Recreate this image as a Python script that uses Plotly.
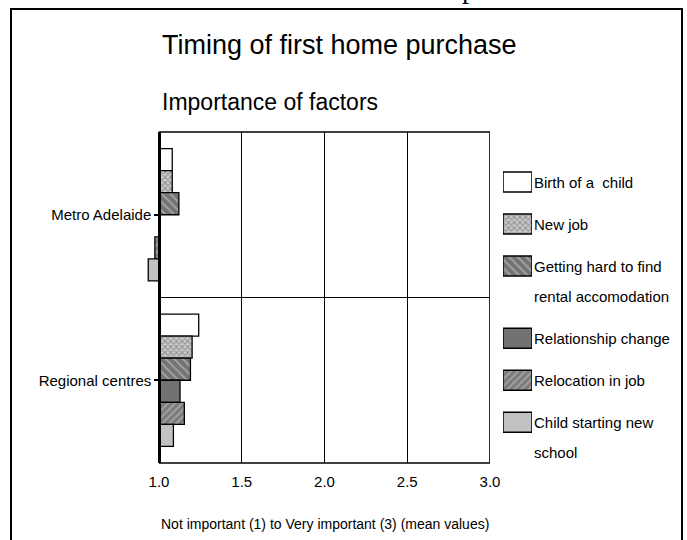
import plotly.graph_objects as go

# ---------------- data ----------------
regions = ["Metro Adelaide", "Regional centres"]
factors = [
    "Birth of a \u00a0child",
    "New job",
    "Getting hard to find<br>rental accomodation",
    "Relationship change",
    "Relocation in job",
    "Child starting new<br>school",
]
metro_values = [1.08, 1.08, 1.12, 1.00, 0.975, 0.935]
regional_values = [1.24, 1.20, 1.19, 1.127, 1.153, 1.087]
x_ticks = [1.0, 1.5, 2.0, 2.5, 3.0]
title_text = "Timing of first home purchase"
subtitle_text = "Importance of factors"
xaxis_text = "Not important (1) to Very important (3) (mean values)"
base_value = 1.0

# ---------------- styles ----------------
styles = [
    dict(color="#ffffff", pattern=dict(shape="")),
    dict(color="#b8b8b8", pattern=dict(shape="x", fgcolor="#5e5e5e", bgcolor="#cdcdcd", size=4, solidity=0.5)),
    dict(color="#787878", pattern=dict(shape="\\", fgcolor="#d8d8d8", bgcolor="#747474", size=6, solidity=0.3)),
    dict(color="#727272", pattern=dict(shape="")),
    dict(color="#808080", pattern=dict(shape="/", fgcolor="#d4d4d4", bgcolor="#7c7c7c", size=5, solidity=0.3)),
    dict(color="#c2c2c2", pattern=dict(shape="")),
]

W, H = 687, 540          # reference picture size
FIG_W = 697              # figure width (picture is compressed horizontally)


def px_x(px):
    return px / W


def px_y(py):
    return (H - py) / H


X_LEFT, X_RIGHT = 159.0, 490.0          # pixel positions of 1.0 and 3.0
unit = (X_RIGHT - X_LEFT) / 2.0
x_min = 0.9
plot_left = X_LEFT - (base_value - x_min) * unit
Y_TOP, Y_BOT = 132.0, 463.0
FONT = "Liberation Sans, Arial, sans-serif"

fig = go.Figure()

for i, name in enumerate(factors):
    vals = [metro_values[i], regional_values[i]]
    fig.add_trace(go.Bar(
        y=regions,
        x=[v - base_value for v in vals],
        base=[base_value] * len(vals),
        orientation="h",
        name=name,
        marker=dict(color=styles[i]["color"], pattern=styles[i]["pattern"],
                    line=dict(color="#000000", width=1.3)),
        showlegend=False,
        xaxis="x", yaxis="y",
    ))

# ---------------- legend as swatch bars ----------------
LEG_UNIT = 42.0
LEG_FIRST = 182.0
LINE_STEP = 0.72
positions = []
p = 0.0
for name in factors:
    positions.append(p)
    p += 1 + LINE_STEP * (name.count("<br>"))
sw_h = 20.0 / LEG_UNIT
for i, name in enumerate(factors):
    fig.add_trace(go.Bar(
        y=[positions[i]], x=[1], base=[0], orientation="h",
        width=[sw_h], offset=[-sw_h / 2],
        marker=dict(color=styles[i]["color"], pattern=styles[i]["pattern"],
                    line=dict(color="#000000", width=1.5)),
        showlegend=False, hoverinfo="skip",
        xaxis="x2", yaxis="y2",
    ))

annotations = []
for i, name in enumerate(factors):
    for k, line in enumerate(name.split("<br>")):
        annotations.append(dict(
            text=line, xref="x2", yref="y2", x=1, y=positions[i] + LINE_STEP * k,
            xanchor="left", yanchor="middle", xshift=0, showarrow=False,
            font=dict(family=FONT, size=15, color="#000000"),
        ))

annotations += [
    dict(text=title_text, xref="paper", yref="paper", x=px_x(160), y=px_y(45),
         xanchor="left", yanchor="middle", showarrow=False,
         font=dict(family=FONT, size=27, color="#000000")),
    dict(text=subtitle_text, xref="paper", yref="paper", x=px_x(160), y=px_y(102),
         xanchor="left", yanchor="middle", showarrow=False,
         font=dict(family=FONT, size=23, color="#000000")),
    dict(text=xaxis_text, xref="x", yref="paper", x=base_value, y=px_y(524),
         xanchor="left", yanchor="middle", showarrow=False,
         font=dict(family=FONT, size=14, color="#000000")),
    dict(text="p", xref="paper", yref="paper", x=px_x(469), y=px_y(9),
         xanchor="center", yanchor="bottom", yshift=3, showarrow=False,
         font=dict(family="Liberation Serif, Times New Roman, serif", size=28, color="#000000")),
]

shapes = [
    # outer frame (open at bottom)
    dict(type="path", xref="paper", yref="paper",
         path="M %f,%f L %f,%f L %f,%f L %f,%f" % (
             px_x(11), -0.1, px_x(11), px_y(9), px_x(682), px_y(9), px_x(682), -0.1),
         line=dict(color="#000000", width=2)),
    # plot frame
    dict(type="line", xref="x", yref="y domain", x0=base_value, x1=3.0, y0=1, y1=1,
         line=dict(color="#000000", width=1.6)),
    dict(type="line", xref="x", yref="y domain", x0=base_value, x1=3.0, y0=0, y1=0,
         line=dict(color="#000000", width=1.6)),
    dict(type="line", xref="x", yref="y domain", x0=3.0, x1=3.0, y0=0, y1=1,
         line=dict(color="#000000", width=1.6)),
    # divider between categories
    dict(type="line", xref="x", yref="y", x0=base_value, x1=3.0, y0=0.5, y1=0.5,
         line=dict(color="#000000", width=1.2)),
]

leg_top = (Y_TOP - LEG_FIRST) / LEG_UNIT
leg_bot = (Y_BOT - LEG_FIRST) / LEG_UNIT

fig.update_layout(
    width=FIG_W, height=H,
    margin=dict(l=0, r=0, t=0, b=0, pad=0),
    paper_bgcolor="#ffffff", plot_bgcolor="rgba(0,0,0,0)",
    barmode="group", bargap=0.2, bargroupgap=0.0,
    showlegend=False,
    font=dict(family=FONT, size=15, color="#000000"),
    xaxis=dict(
        domain=[px_x(plot_left), px_x(X_RIGHT)], range=[x_min, 3.0001],
        tickvals=x_ticks, ticktext=["%.1f" % t for t in x_ticks],
        showgrid=True, gridcolor="#000000", gridwidth=1.2,
        zeroline=False, showline=False, ticks="",
        ticklabelstandoff=8,
        tickfont=dict(family=FONT, size=15, color="#000000"),
        anchor="y", fixedrange=True,
    ),
    yaxis=dict(
        domain=[px_y(Y_BOT), px_y(Y_TOP)], type="category",
        categoryorder="array", categoryarray=regions, range=[1.5, -0.5],
        anchor="free", position=px_x(X_LEFT),
        showline=True, linecolor="#000000", linewidth=2.5,
        ticks="outside", ticklen=4, tickwidth=2, tickcolor="#000000",
        showgrid=False, zeroline=False,
        tickfont=dict(family=FONT, size=15, color="#000000"),
        fixedrange=True,
    ),
    xaxis2=dict(domain=[px_x(503), px_x(532)], range=[0, 1], visible=False,
                anchor="y2", fixedrange=True),
    yaxis2=dict(domain=[px_y(Y_BOT), px_y(Y_TOP)], range=[leg_bot, leg_top],
                visible=False, anchor="x2", fixedrange=True),
    annotations=annotations,
    shapes=shapes,
)

fig.write_html(
    "out.html",
    config={"displayModeBar": False},
    post_script="document.body.style.margin='0';document.body.style.padding='0';"
                "document.body.style.overflow='hidden';",
)
